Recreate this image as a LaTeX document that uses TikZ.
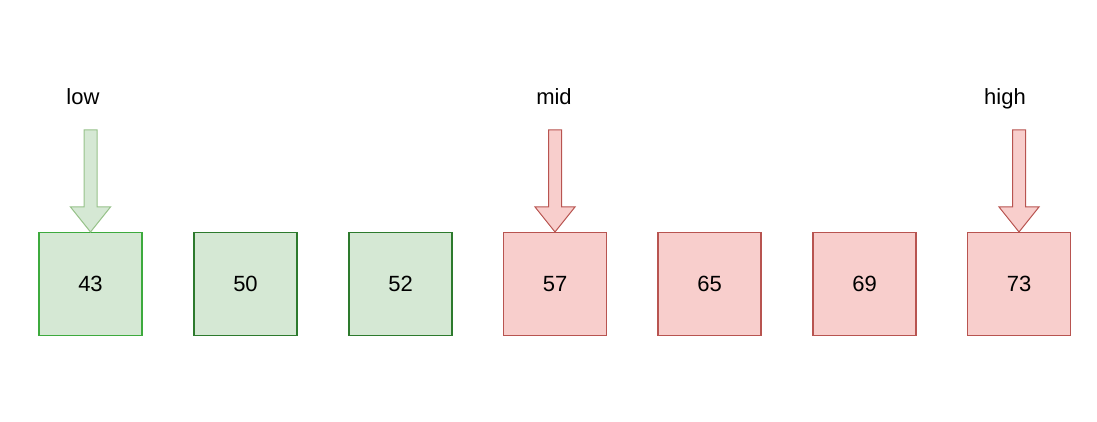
\documentclass[tikz,border=0pt]{standalone}
\usepackage{fontspec}
\setmainfont{Liberation Sans}
\definecolor{gfill}{HTML}{D5E8D4}
\definecolor{gbright}{HTML}{3DAA3D}
\definecolor{gdark}{HTML}{2D7A2D}
\definecolor{garrowline}{HTML}{97C28A}
\definecolor{rfill}{HTML}{F8CECC}
\definecolor{rline}{HTML}{B85450}
\begin{document}
\begin{tikzpicture}[x=1pt,y=-1pt,
  cell/.style={draw, line width=1.1pt, minimum size=103pt, inner sep=0pt, font=\fontsize{22}{24}\selectfont},
  gcell/.style={cell, fill=gfill, draw=gdark},
  rcell/.style={cell, fill=rfill, draw=rline},
  lbl/.style={font=\fontsize{22}{24}\selectfont, inner sep=0pt, anchor=base},
  garrow/.style={draw=garrowline, fill=gfill, line width=1pt, line join=miter},
  rarrow/.style={draw=rline, fill=rfill, line width=1pt, line join=miter}]
\useasboundingbox (0,0) rectangle (1097,421);
\node[gcell, draw=gbright] (b43) at (90.5,284) {43};
\node[gcell] (b50) at (245.5,284) {50};
\node[gcell] (b52) at (400.5,284) {52};
\node[rcell] (b57) at (555,284) {57};
\node[rcell] (b65) at (709.5,284) {65};
\node[rcell] (b69) at (864.5,284) {69};
\node[rcell] (b73) at (1019,284) {73};
\node[lbl] (low) at (83,104) {low};
\node[lbl] (mid) at (554,104) {mid};
\node[lbl] (high) at (1005,104) {high};
\draw[garrow] (b43.north) -- ++(-20,-25) -- ++(13.5,0) -- ++(0,-77) -- ++(13,0) -- ++(0,77) -- ++(13.5,0) -- cycle;
\draw[rarrow] (b57.north) -- ++(-20,-25) -- ++(13.5,0) -- ++(0,-77) -- ++(13,0) -- ++(0,77) -- ++(13.5,0) -- cycle;
\draw[rarrow] (b73.north) -- ++(-20,-25) -- ++(13.5,0) -- ++(0,-77) -- ++(13,0) -- ++(0,77) -- ++(13.5,0) -- cycle;
\end{tikzpicture}
\end{document}
